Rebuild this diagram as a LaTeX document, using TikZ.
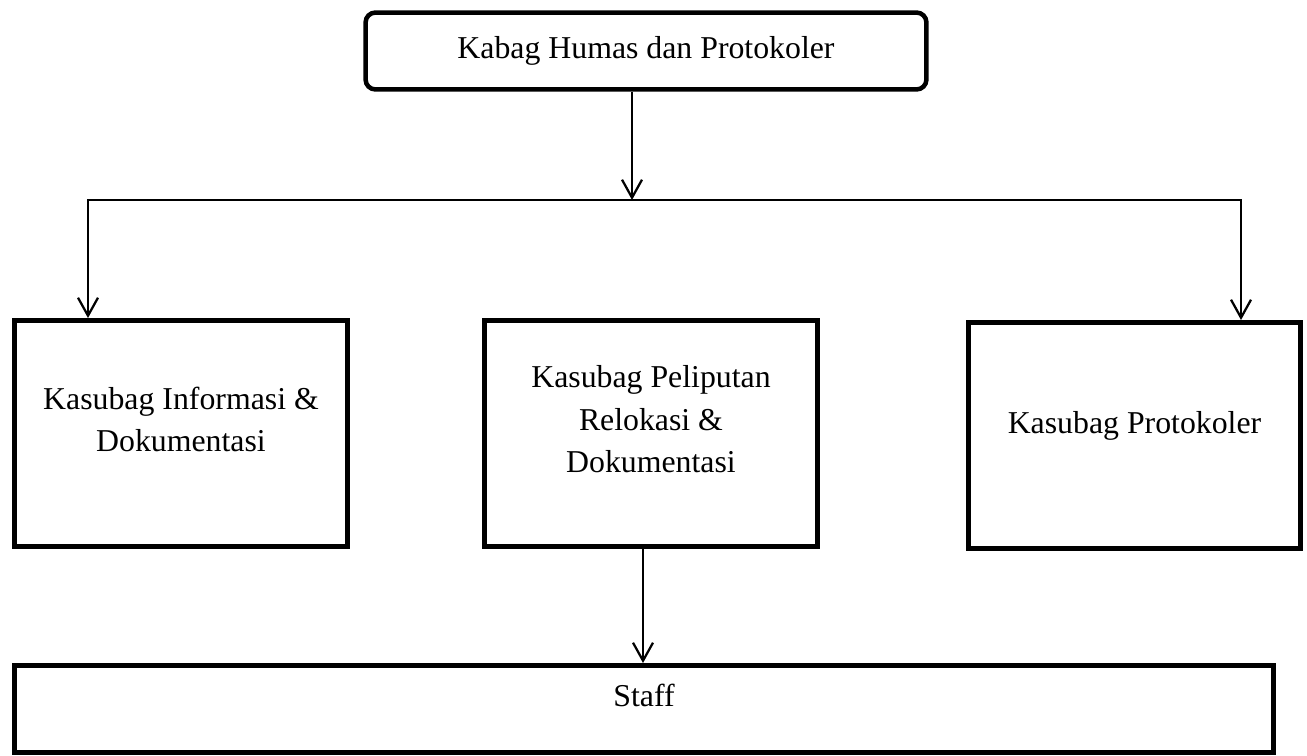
\documentclass[tikz,border=0pt]{standalone}
\usepackage{fontspec}
\setmainfont{Liberation Serif}
\usetikzlibrary{arrows.meta,positioning}

\begin{document}
\begin{tikzpicture}[
  x=0.02cm,
  y=-0.02cm,
  font=\fontsize{18.1}{24.2}\selectfont,
  head/.style={
    draw,
    line width=0.09cm,
    rounded corners=0.2cm,
    minimum width=11.22cm,
    minimum height=1.54cm,
    align=center
  },
  unit/.style={
    draw,
    line width=0.1cm,
    minimum width=6.66cm,
    minimum height=4.52cm
  },
  staffbox/.style={
    draw,
    line width=0.1cm,
    minimum width=25.18cm,
    minimum height=1.74cm
  },
  txt/.style={
    align=center,
    yshift=0.28cm
  },
  arrow/.style={
    -{Straight Barb[length=0.36cm,width=0.4cm]},
    line width=0.045cm
  }
]
\useasboundingbox (0,0) rectangle (1307,756);

%---------------------------------
% Top node
%---------------------------------
\node[head] (kabag) at (646,51) {Kabag Humas dan Protokoler};

%---------------------------------
% Middle nodes
%---------------------------------
\node[unit, label={[txt, name=infotxt]center:Kasubag Informasi \&\\Dokumentasi}]
  (info) at (181,433.5) {};

\node[unit, label={[txt, name=liputtxt]center:Kasubag Peliputan\\Relokasi \&\\Dokumentasi}]
  (liput) at (651,433.5) {};

\node[unit, minimum width=6.64cm, label={[txt, yshift=-0.09cm, name=prototxt]center:Kasubag Protokoler}]
  (proto) at (1134.5,435.5) {};

%---------------------------------
% Bottom node
%---------------------------------
\node[staffbox, label={[txt, name=stafftxt]center:Staff}]
  (staff) at (644,709) {};

%---------------------------------
% Connections
%---------------------------------
\coordinate (busM) at (632,200);
\coordinate (busL) at (88,200);
\coordinate (busR) at (1241,200);

\draw[arrow] (kabag.south -| busM) -- (busM);
\draw[arrow] (busM) -- (busL) -- (info.north -| busL);
\draw[arrow] (busM) -- (busR) -- (proto.north -| busR);
\draw[arrow] ([xshift=-0.16cm]liput.south) -- ([xshift=-0.16cm]liput.south |- staff.north);

\end{tikzpicture}
\end{document}
